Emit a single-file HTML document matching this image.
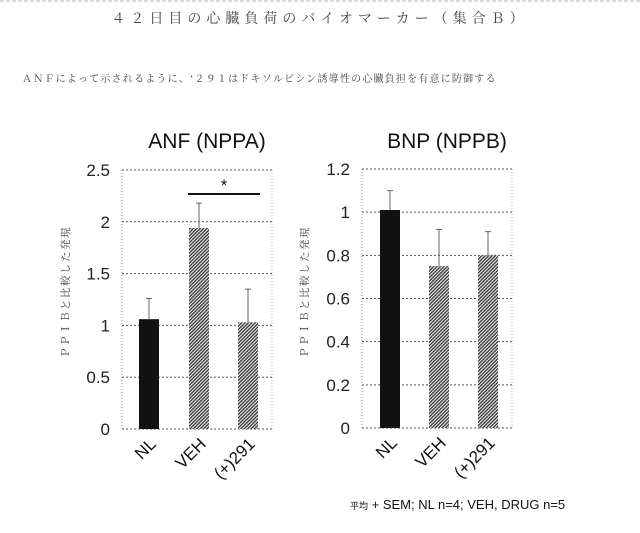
<!DOCTYPE html>
<html><head><meta charset="utf-8"><style>
body{margin:0;background:#fff;width:640px;height:528px;overflow:hidden;font-family:"Liberation Sans","Noto Serif CJK SC",sans-serif}
svg text{font-family:"Liberation Sans","Noto Sans CJK JP",sans-serif}
.jp{font-family:"Liberation Serif","Noto Serif CJK SC",serif}
</style></head><body>
<svg id="c" width="640" height="528" xmlns="http://www.w3.org/2000/svg">
<defs><pattern id="hatch" width="2.4" height="2.4" patternUnits="userSpaceOnUse" patternTransform="rotate(45)"><rect width="2.4" height="2.4" fill="#fff"/><rect width="1.5" height="2.4" fill="#444"/></pattern></defs>
<line x1="0" y1="1" x2="640" y2="1" stroke="#bbb" stroke-dasharray="4,2"/>
<text class="jp" x="320" y="23" font-size="14" text-anchor="middle" fill="#444" letter-spacing="5">４２日目の心臓負荷のバイオマーカー（集合Ｂ）</text>
<text class="jp" x="22" y="82" font-size="10" fill="#444" letter-spacing="1.2">ＡＮＦによって示されるように、‘２９１はドキソルビシン誘導性の心臓負担を有意に防御する</text>
<g id="g1"></g><g id="g2"></g>
<text x="350" y="509" font-size="13" fill="#111"><tspan font-size="9">平均</tspan> + SEM; NL n=4; VEH, DRUG n=5</text>
</svg>
<script>
const categories=["NL","VEH","(+)291"];
const anfValues=[1.06,1.94,1.03];
const anfErrors=[0.20,0.24,0.32];
const anfTicks=["0","0.5","1","1.5","2","2.5"];
const bnpValues=[1.01,0.75,0.80];
const bnpErrors=[0.09,0.17,0.11];
const bnpTicks=["0","0.2","0.4","0.6","0.8","1","1.2"];
const NS="http://www.w3.org/2000/svg";
function mk(p,t,a){const e=document.createElementNS(NS,t);for(const k in a)e.setAttribute(k,a[k]);p.appendChild(e);return e;}
function chart(gid,title,vals,errs,ticks,ymax,x0,x1,y0,y1,barX,sig,ylx){
 const g=document.getElementById(gid);
 const ys=v=>y0-(v/ymax)*(y0-y1);
 let t=mk(g,'text',{x:(x0+x1)/2+10,y:148,'font-size':21,'text-anchor':'middle',fill:'#111'});t.textContent=title;
 
 
 mk(g,'line',{x1:x0,y1:y1,x2:x0,y2:y0,stroke:'#888','stroke-dasharray':'1,2'});
 mk(g,'line',{x1:x1,y1:y1,x2:x1,y2:y0,stroke:'#aaa','stroke-dasharray':'1,2'});
 ticks.forEach(tk=>{const v=parseFloat(tk),y=ys(v);
  const l=mk(g,'line',{x1:x0,y1:y,x2:x1,y2:y,stroke:'#555','stroke-dasharray':'2,2'});
  
  
  const tx=mk(g,'text',{x:x0-12,y:y+6,'font-size':17,'text-anchor':'end',fill:'#222'});tx.textContent=tk;
  
  });
 const yl=mk(g,'text',{x:0,y:0,'font-size':10.5,'text-anchor':'middle',fill:'#444',class:'jp',transform:`translate(${ylx},292) rotate(-90)`,'letter-spacing':'1.5'});
 yl.textContent='ＰＰＩＢと比較した発現';
 
 
 vals.forEach((v,i)=>{const bx=barX[i],w=20;
  const r=mk(g,'rect',{x:bx,y:ys(v),width:w,height:y0-ys(v),fill:i==0?'#111':'url(#hatch)'});
  
  
  const ey=ys(v+errs[i]);
  const e=mk(g,'path',{d:`M${bx+w/2} ${ys(v)}V${ey}M${bx+w/2-3} ${ey}H${bx+w/2+3}`,stroke:'#666','stroke-width':1,fill:'none'});
  
  
  const c=mk(g,'text',{x:0,y:0,'font-size':17,'text-anchor':'end',fill:'#111',transform:`translate(${bx+w/2+8},${y0+16}) rotate(-45)`});
  c.textContent=categories[i];
  
  });
 if(sig){const l=mk(g,'line',{x1:sig[0],y1:sig[2],x2:sig[1],y2:sig[2],stroke:'#111','stroke-width':2});
  
  
  const s=mk(g,'text',{x:(sig[0]+sig[1])/2,y:sig[2]-3,'font-size':17,'text-anchor':'middle',fill:'#111'});s.textContent='*';
  
  }
}
chart('g1','ANF (NPPA)',anfValues,anfErrors,anfTicks,2.5,122,272,429,170,[139,189,238],[188,260,194],69);
chart('g2','BNP (NPPB)',bnpValues,bnpErrors,bnpTicks,1.2,362,512,428,169,[380,429,478],null,308);
</script>
</body></html>
